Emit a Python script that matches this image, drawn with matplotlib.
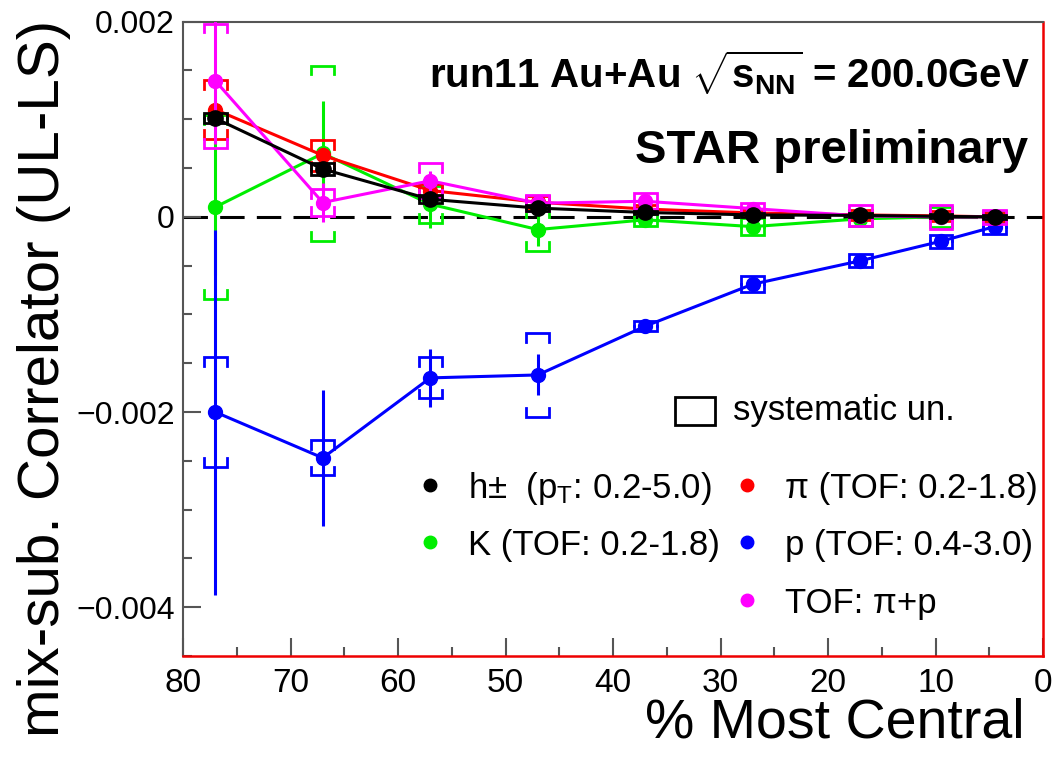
import matplotlib
matplotlib.use('Agg')
import matplotlib.pyplot as plt
import numpy as np
from matplotlib.patches import Rectangle

plt.rcParams['font.family'] = ['Liberation Sans', 'DejaVu Sans']
plt.rcParams['mathtext.fontset'] = 'custom'
plt.rcParams['mathtext.rm'] = 'Liberation Sans'
plt.rcParams['mathtext.it'] = 'Liberation Sans:italic'
plt.rcParams['mathtext.bf'] = 'Liberation Sans:bold'

# centrality bin positions (% most central)
cent = np.array([77, 67, 57, 47, 37, 27, 17, 9.5, 4.5])

# values in units of 1e-3
h_val = np.array([1.01, 0.49, 0.18, 0.09, 0.045, 0.02, 0.015, 0.005, 0.0]) * 1e-3
h_stat = np.array([0.04, 0.03, 0.02, 0.015, 0.01, 0.01, 0.01, 0.01, 0.01]) * 1e-3
h_sys = np.array([0.05, 0.06, 0.04, 0.03, 0.02, 0.02, 0.02, 0.02, 0.02]) * 1e-3

pi_val = np.array([1.10, 0.63, 0.27, 0.15, 0.08, 0.04, 0.02, 0.01, 0.0]) * 1e-3
pi_stat = np.array([0.10, 0.08, 0.05, 0.03, 0.02, 0.02, 0.02, 0.02, 0.02]) * 1e-3
pi_sys = np.array([0.30, 0.16, 0.07, 0.06, 0.04, 0.03, 0.05, 0.05, 0.04]) * 1e-3

k_val = np.array([0.10, 0.65, 0.13, -0.13, -0.03, -0.10, -0.02, 0.0, 0.0]) * 1e-3
k_stat = np.array([0.70, 0.54, 0.24, 0.17, 0.04, 0.03, 0.03, 0.03, 0.02]) * 1e-3
k_sys = np.array([0.94, 0.90, 0.19, 0.22, 0.06, 0.085, 0.07, 0.10, 0.06]) * 1e-3

p_val = np.array([-2.0, -2.47, -1.65, -1.62, -1.12, -0.69, -0.45, -0.25, -0.10]) * 1e-3
p_stat = np.array([1.87, 0.70, 0.30, 0.21, 0.07, 0.04, 0.03, 0.03, 0.04]) * 1e-3
p_sys = np.array([0.56, 0.18, 0.21, 0.43, 0.05, 0.084, 0.068, 0.068, 0.08]) * 1e-3

tof_val = np.array([1.395, 0.147, 0.37, 0.14, 0.16, 0.085, 0.01, 0.0, 0.0]) * 1e-3
tof_stat = np.array([0.65, 0.20, 0.10, 0.05, 0.04, 0.03, 0.02, 0.02, 0.02]) * 1e-3
tof_sys = np.array([0.69, 0.135, 0.18, 0.08, 0.08, 0.055, 0.107, 0.12, 0.07]) * 1e-3

series = [
    (k_val, k_stat, k_sys, '#00ee00', 2),
    (p_val, p_stat, p_sys, '#0000ff', 3),
    (pi_val, pi_stat, pi_sys, '#ff0000', 4),
    (tof_val, tof_stat, tof_sys, '#ff00ff', 5),
    (h_val, h_stat, h_sys, '#000000', 6),
]

ymin, ymax = -0.00447, 0.002

W, H = 1061, 760
def fx(px):
    return px / W
def fy(py):
    return 1 - py / H

fig = plt.figure(figsize=(10.61, 7.6), dpi=100)
ax = fig.add_axes([fx(183), fy(656), (1043 - 183) / W, (656 - 21.7) / H])

ax.axhline(0, color='k', lw=2.2, dashes=(8, 4), zorder=1)

def sys_brackets(x, y, s, color, z):
    hw = 1.05
    for xi, yi, si in zip(x, y, s):
        leg = min(si, 0.09e-3)
        top = min(yi + si, ymax - 0.02e-3)
        bot = yi - si
        ax.plot([xi - hw, xi - hw, xi + hw, xi + hw], [top - leg, top, top, top - leg],
                color=color, lw=2, zorder=z, solid_joinstyle='miter')
        ax.plot([xi - hw, xi - hw, xi + hw, xi + hw], [bot + leg, bot, bot, bot + leg],
                color=color, lw=2, zorder=z, solid_joinstyle='miter')

for val, stat, sys, col, z in series:
    sys_brackets(cent, val, sys, col, z)
    ms = 11 if col == '#000000' else 10
    ax.errorbar(cent, val, yerr=stat, fmt='-o', color=col, lw=2.2, ms=ms,
                elinewidth=2.2, capsize=0, zorder=z)

ax.set_xlim(80, 0)
ax.set_ylim(ymin, ymax)
ax.set_xticks(np.arange(80, -1, -10))
ax.set_xticks(np.arange(75, 0, -10), minor=True)
ax.set_yticks([-0.004, -0.002, 0, 0.002])
ax.set_yticklabels(['\u22120.004', '\u22120.002', '0', '0.002'])
ax.set_yticks(np.arange(-0.0045, 0.002, 0.0005), minor=True)
ax.tick_params(which='both', direction='in', color='#555555', width=1.5,
               top=False, right=False)
ax.tick_params(which='major', length=13)
ax.tick_params(which='minor', length=6.5)
ax.tick_params(axis='x', labelsize=24, pad=9)
ax.tick_params(axis='y', labelsize=23, pad=6)
for side in ['top', 'left']:
    ax.spines[side].set_color('#555555')
    ax.spines[side].set_linewidth(1.5)
for side in ['bottom', 'right']:
    ax.spines[side].set_color('#ee0000')
    ax.spines[side].set_linewidth(1.8)

fig.text(fx(44), fy(20), 'mix-sub. Correlator (UL-LS)', rotation=90,
         ha='center', va='top', fontsize=42)
fig.text(fx(1025), fy(738), '% Most Central', ha='right', va='baseline', fontsize=40)

fig.text(fx(1030), fy(88), r'run11 Au+Au $\sqrt{\mathbf{s}_{\mathbf{NN}}}$ = 200.0GeV',
         ha='right', va='baseline', fontsize=29, weight='bold')
fig.text(fx(1028), fy(163), 'STAR preliminary', ha='right', va='baseline',
         fontsize=34, weight='bold')

# legend
fig.add_artist(Rectangle((fx(675), fy(425)), (715 - 675) / W, (425 - 397) / H,
                         transform=fig.transFigure, fill=False, ec='k', lw=2))
fig.text(fx(733), fy(420), 'systematic un.', ha='left', va='baseline', fontsize=25)

legend_rows = [
    (430, 485, '#000000', r'h$\pm$  (p$_{\mathrm{T}}$: 0.2-5.0)'),
    (430, 542, '#00ee00', 'K (TOF: 0.2-1.8)'),
    (747, 485, '#ff0000', '\u03c0 (TOF: 0.2-1.8)'),
    (747, 542, '#0000ff', 'p (TOF: 0.4-3.0)'),
    (747, 600, '#ff00ff', 'TOF: \u03c0+p'),
]
for px, py, col, lab in legend_rows:
    fig.add_artist(plt.Line2D([fx(px)], [fy(py)], marker='o', ms=9, color=col,
                              transform=fig.transFigure))
    fig.text(fx(px + 38), fy(py + 13), lab, ha='left', va='baseline', fontsize=25)

fig.savefig('out.png', dpi=100)
